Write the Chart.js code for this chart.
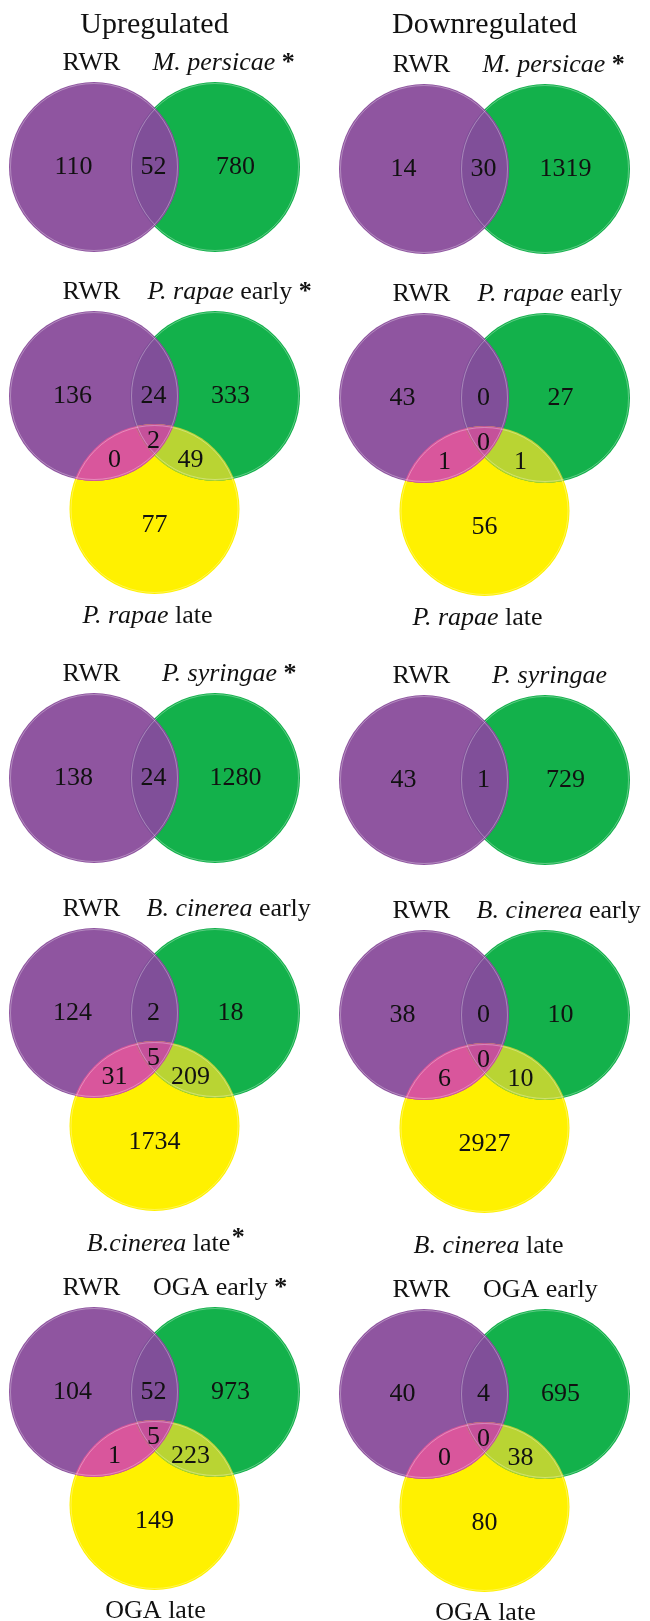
<!DOCTYPE html>
<html>
<head>
<meta charset="utf-8">
<script src="https://cdn.jsdelivr.net/npm/chart.js@4.4.0/dist/chart.umd.min.js"></script>
<style>
    html, body { margin: 0; padding: 0; background: #fff; }
    canvas { display: block; }
</style>
</head>
<body>
<canvas id="graficoVenn" width="650" height="1621"></canvas>
<script>
// Títulos das duas colunas
const colunas = ['Upregulated', 'Downregulated'];

// Nome do conjunto A (sempre o mesmo)
const conjuntoA = 'RWR';

// Conjunto B por linha: [parte em itálico, parte normal]
const conjuntoB = [
    ['M. persicae', ''],
    ['P. rapae', ' early'],
    ['P. syringae', ''],
    ['B. cinerea', ' early'],
    ['', 'OGA early']
];

// Conjunto C (terceiro círculo) por coluna; null quando só há dois conjuntos
const conjuntoCUp = [null, ['P. rapae', ' late'], null, ['B.cinerea', ' late'], ['', 'OGA late']];
const conjuntoCDown = [null, ['P. rapae', ' late'], null, ['B. cinerea', ' late'], ['', 'OGA late']];

// Asterisco (significância) ao lado do rótulo B / C
const asteriscoBUp = [true, true, true, false, true];
const asteriscoBDown = [true, false, false, false, false];
const asteriscoCUp = [false, false, false, true, false];
const asteriscoCDown = [false, false, false, false, false];

// Contagens: 2 conjuntos -> [só A, A∩B, só B]
// 3 conjuntos -> [só A, A∩B, só B, A∩B∩C, A∩C, B∩C, só C]
const contagensUp = [
    [110, 52, 780],
    [136, 24, 333, 2, 0, 49, 77],
    [138, 24, 1280],
    [124, 2, 18, 5, 31, 209, 1734],
    [104, 52, 973, 5, 1, 223, 149]
];
const contagensDown = [
    [14, 30, 1319],
    [43, 0, 27, 0, 1, 1, 56],
    [43, 1, 729],
    [38, 0, 10, 0, 6, 10, 2927],
    [40, 4, 695, 0, 0, 38, 80]
];

// --- Layout (pixels) ---
const raio = 85;
const deslocX = 60.5;          // meia distância entre A e B
const deslocY = 113;           // C fica abaixo do par A/B
const colunaX = [154.5, 484.5];
const linhaY = [167, 396, 778, 1013, 1392];
const ajusteColunaY = [0, 2];
const ajusteRotuloB = [-2, -7, 7.5, -8, -1.5];
const ajusteRotuloC = [0, -7, 0, 4, 1];
const baseRotuloC = [0, 227, 0, 238, 226];

const cores = {
    roxo: '#8f55a0',
    verde: '#13b14b',
    amarelo: '#fff100',
    roxoVerde: '#804f99',
    roxoAmarelo: '#d9569c',
    verdeAmarelo: '#b9d433',
    centro: '#c5519a',
    anel: 'rgba(255,255,255,0.4)'
};

const fonteNumero = "26px 'Liberation Serif'";
const fonteNormal = "26px 'Liberation Serif'";
const fonteItalico = "italic 26px 'Liberation Serif'";

// Monta os painéis (linha x coluna)
const paineis = [];
[contagensUp, contagensDown].forEach((contagens, col) => {
    contagens.forEach((valores, lin) => {
        paineis.push({
            col, lin, valores,
            cx: colunaX[col],
            cy: linhaY[lin] + ajusteColunaY[col],
            tres: valores.length === 7,
            rotuloC: (col === 0 ? conjuntoCUp : conjuntoCDown)[lin],
            astB: (col === 0 ? asteriscoBUp : asteriscoBDown)[lin],
            astC: (col === 0 ? asteriscoCUp : asteriscoCDown)[lin]
        });
    });
});

const pontosRoxo = paineis.map(p => ({ x: p.cx - deslocX, y: p.cy, r: raio }));
const pontosVerde = paineis.map(p => ({ x: p.cx + deslocX, y: p.cy, r: raio }));
const paineisTres = paineis.filter(p => p.tres);
const pontosAmarelo = paineisTres.map(p => ({ x: p.cx, y: p.cy + deslocY, r: raio }));

// Escreve texto com uma parte em itálico seguida de parte normal
function escreverRotulo(ctx, partes, x, y, alinhar) {
    ctx.font = fonteItalico;
    const wItal = ctx.measureText(partes[0]).width;
    ctx.font = fonteNormal;
    const wNorm = ctx.measureText(partes[1]).width;
    let x0 = alinhar === 'center' ? x - (wItal + wNorm) / 2 : x;
    ctx.textAlign = 'left';
    ctx.font = fonteItalico;
    ctx.fillText(partes[0], x0, y);
    ctx.font = fonteNormal;
    ctx.fillText(partes[1], x0 + wItal, y);
    return x0 + wItal + wNorm;
}

function asterisco(ctx, x, y) {
    ctx.font = "bold 26px 'Liberation Serif'";
    ctx.textAlign = 'center';
    ctx.fillText('*', x, y);
}

// Plugin: pinta as interseções, os anéis claros e os textos
const pluginVenn = {
    id: 'pluginVenn',
    afterDatasetsDraw(chart) {
        const ctx = chart.ctx;
        const mRoxo = chart.getDatasetMeta(0).data;
        const mVerde = chart.getDatasetMeta(1).data;
        const mAmarelo = chart.getDatasetMeta(2).data;
        const circ = el => ({ x: el.x, y: el.y, r: el.options.radius });

        function regiao(lista, cor) {
            ctx.save();
            lista.forEach(c => {
                ctx.beginPath();
                ctx.arc(c.x, c.y, c.r, 0, Math.PI * 2);
                ctx.clip();
            });
            ctx.fillStyle = cor;
            ctx.fillRect(0, 0, chart.width, chart.height);
            ctx.restore();
        }

        paineis.forEach((p, i) => {
            const a = circ(mRoxo[i]);
            const b = circ(mVerde[i]);
            regiao([a, b], cores.roxoVerde);
            const lista = [a, b];
            if (p.tres) {
                const c = circ(mAmarelo[paineisTres.indexOf(p)]);
                regiao([a, c], cores.roxoAmarelo);
                regiao([b, c], cores.verdeAmarelo);
                regiao([a, b, c], cores.centro);
                lista.push(c);
            }
            // anéis claros junto à borda
            ctx.save();
            ctx.strokeStyle = cores.anel;
            ctx.lineWidth = 0.8;
            lista.forEach(c => {
                ctx.beginPath();
                ctx.arc(c.x, c.y, c.r - 1.5, 0, Math.PI * 2);
                ctx.stroke();
            });
            ctx.restore();
        });

        ctx.save();
        ctx.fillStyle = '#111';
        ctx.textBaseline = 'alphabetic';

        // títulos das colunas
        ctx.font = "30px 'Liberation Serif'";
        ctx.textAlign = 'center';
        colunas.forEach((t, col) => ctx.fillText(t, colunaX[col], 33));

        paineis.forEach((p, i) => {
            const a = mRoxo[i], b = mVerde[i];
            const px = (a.x + b.x) / 2, py = a.y;
            const v = p.valores;

            // rótulos dos conjuntos
            ctx.font = fonteNormal;
            ctx.textAlign = 'center';
            ctx.fillText(conjuntoA, px - 63, py - 97);
            const fimB = escreverRotulo(ctx, conjuntoB[p.lin], px + ajusteRotuloB[p.lin], py - 97, 'left');
            if (p.astB) asterisco(ctx, fimB + 13, py - 97);

            if (p.tres && p.rotuloC) {
                const yC = py + baseRotuloC[p.lin];
                const fimC = escreverRotulo(ctx, p.rotuloC, px + ajusteRotuloC[p.lin], yC, 'center');
                if (p.astC) asterisco(ctx, fimC + 8, yC - 6);
            }

            // números das regiões
            ctx.font = fonteNumero;
            ctx.textAlign = 'center';
            if (!p.tres) {
                ctx.fillText(v[0], px - 81, py + 7);
                ctx.fillText(v[1], px - 1, py + 7);
                ctx.fillText(v[2], px + 81, py + 7);
            } else {
                ctx.fillText(v[0], px - 82, py + 7);
                ctx.fillText(v[1], px - 1, py + 7);
                ctx.fillText(v[2], px + 76, py + 7);
                ctx.fillText(v[3], px - 1, py + 52);
                ctx.fillText(v[4], px - 40, py + 71);
                ctx.fillText(v[5], px + 36, py + 71);
                ctx.fillText(v[6], px, py + 136);
            }
        });
        ctx.restore();
    }
};

window.chartVenn = new Chart(document.getElementById('graficoVenn').getContext('2d'), {
    type: 'bubble',
    data: {
        datasets: [
            { label: conjuntoA, data: pontosRoxo, backgroundColor: cores.roxo, borderWidth: 0, clip: false },
            { label: 'B', data: pontosVerde, backgroundColor: cores.verde, borderWidth: 0, clip: false },
            { label: 'C', data: pontosAmarelo, backgroundColor: cores.amarelo, borderWidth: 0, clip: false }
        ]
    },
    options: {
        responsive: false,
        animation: false,
        events: [],
        // sem folga automática: 1 unidade da escala = 1 pixel
        layout: { padding: 0, autoPadding: false },
        plugins: { legend: { display: false }, tooltip: { enabled: false } },
        scales: {
            x: { type: 'linear', min: 0, max: 650, display: false },
            y: { type: 'linear', min: 0, max: 1621, reverse: true, display: false }
        }
    },
    plugins: [pluginVenn]
});
</script>
</body>
</html>
